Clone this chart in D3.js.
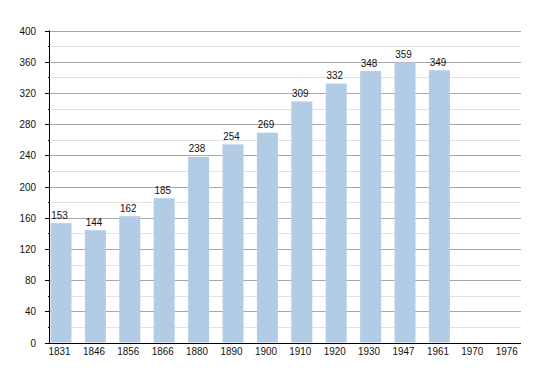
<!DOCTYPE html>
<html><head><meta charset="utf-8">
<script src="https://cdn.jsdelivr.net/npm/d3@7"></script>
<style>body{margin:0;background:#fff}svg{display:block;font-family:"Liberation Sans",Arial,sans-serif}</style>
</head><body><svg id="c" width="550" height="373"></svg>
<script>
const years = ["1831","1846","1856","1866","1880","1890","1900","1910","1920","1930","1947","1961","1970","1976"];
const population = [153,144,162,185,238,254,269,309,332,348,359,349,null,null];
const yTicks = [0,40,80,120,160,200,240,280,320,360,400];
const yMinor = [20,60,100,140,180,220,260,300,340,380];

const svg = d3.select("#c");
const axisLeft = 50, axisRight = 521;
const sx = 0.86;
const x = d3.scaleBand().domain(years).range([43.8, 525.4]).paddingInner(0.39).paddingOuter(0.195);
const y = d3.scaleLinear().domain([0,400]).range([342.5,30.5]);

svg.append("g").selectAll("line").data(yMinor).join("line")
  .attr("x1",axisLeft).attr("x2",axisRight)
  .attr("y1",d=>Math.round(y(d))+0.5).attr("y2",d=>Math.round(y(d))+0.5)
  .attr("stroke","#e2e2e2").attr("stroke-width",1);
svg.append("g").selectAll("line").data(yTicks.filter(d=>d>0)).join("line")
  .attr("x1",axisLeft).attr("x2",axisRight)
  .attr("y1",d=>Math.round(y(d))+0.5).attr("y2",d=>Math.round(y(d))+0.5)
  .attr("stroke","#a8a8a8").attr("stroke-width",1);

const data = years.map((yr,i)=>({yr, v: population[i]})).filter(d=>d.v!=null);
svg.append("g").selectAll("rect").data(data).join("rect")
  .attr("x",d=>x(d.yr)).attr("width",x.bandwidth())
  .attr("y",d=>y(d.v)).attr("height",d=>y(0)-y(d.v))
  .attr("fill","#b3cce6");

svg.append("g").selectAll("text").data(data).join("text")
  .attr("transform",d=>`translate(${x(d.yr)+x.bandwidth()/2-1.5},${y(d.v)-4.5}) scale(${sx},1)`)
  .attr("text-anchor","middle").attr("font-size",11.5).attr("fill","#111")
  .text(d=>d.v);

const gy = svg.append("g");
gy.append("line").attr("x1",axisLeft-0.5).attr("x2",axisLeft-0.5).attr("y1",y(400)).attr("y2",y(0)+1).attr("stroke","#000");
gy.selectAll("line.maj").data(yTicks).join("line").attr("class","maj")
  .attr("x1",axisLeft-5).attr("x2",axisLeft)
  .attr("y1",d=>Math.round(y(d))+0.5).attr("y2",d=>Math.round(y(d))+0.5).attr("stroke","#000");
gy.selectAll("line.min").data(yMinor).join("line").attr("class","min")
  .attr("x1",axisLeft-2).attr("x2",axisLeft)
  .attr("y1",d=>Math.round(y(d))+0.5).attr("y2",d=>Math.round(y(d))+0.5).attr("stroke","#000");
gy.selectAll("text").data(yTicks).join("text")
  .attr("transform",d=>`translate(${axisLeft-14},${y(d)+4}) scale(${sx},1)`)
  .attr("text-anchor","end").attr("font-size",11.5).attr("fill","#111").text(d=>d);

svg.append("line").attr("x1",axisLeft-1).attr("x2",axisRight).attr("y1",Math.round(y(0))+0.5).attr("y2",Math.round(y(0))+0.5).attr("stroke","#000");
svg.append("g").selectAll("text").data(years).join("text")
  .attr("transform",d=>`translate(${x(d)+x.bandwidth()/2-1.5},355) scale(${sx},1)`)
  .attr("text-anchor","middle").attr("font-size",11.5).attr("fill","#111").text(d=>d);
</script></body></html>
